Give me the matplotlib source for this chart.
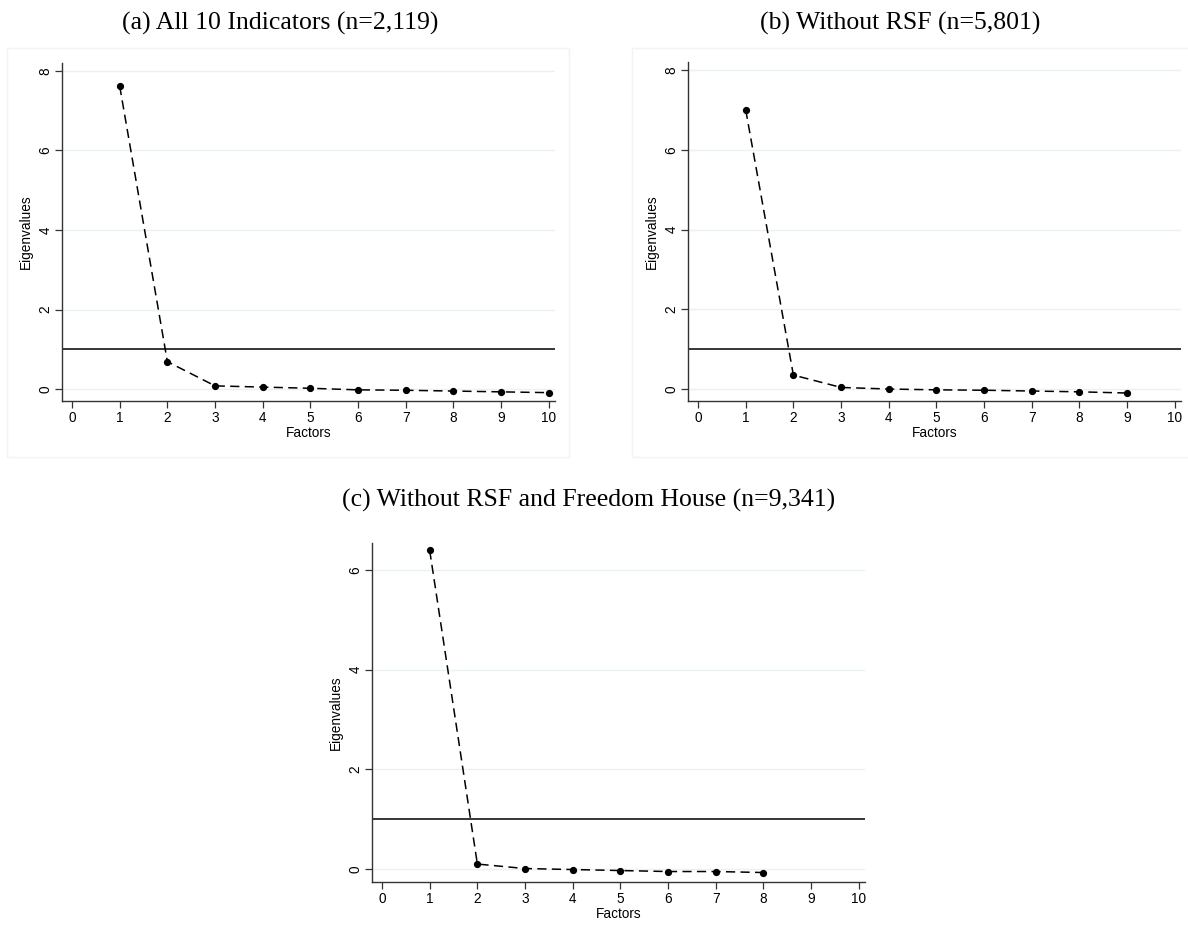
import matplotlib
matplotlib.use("Agg")
import matplotlib.pyplot as plt
from matplotlib.patches import Rectangle

# Data
eig_a = [7.62, 0.69, 0.08, 0.05, 0.02, -0.02, -0.03, -0.05, -0.07, -0.09]
eig_b = [7.00, 0.35, 0.04, 0.00, -0.02, -0.03, -0.05, -0.07, -0.10]
eig_c = [6.39, 0.10, 0.01, -0.01, -0.03, -0.05, -0.05, -0.07]
titles = ["(a) All 10 Indicators (n=2,119)",
          "(b) Without RSF (n=5,801)",
          "(c) Without RSF and Freedom House (n=9,341)"]
xticks = list(range(0, 11))

W, H = 1188, 932
fig = plt.figure(figsize=(W / 100, H / 100), dpi=100)

def ax_at(l, r, t, b):
    return fig.add_axes([l / W, 1 - b / H, (r - l) / W, (b - t) / H])

sans = ["Liberation Sans", "DejaVu Sans"]
serif = ["Liberation Serif", "DejaVu Serif"]

def draw(ax, vals, yticks, ylim):
    xs = list(range(1, len(vals) + 1))
    for yt in yticks:
        ax.axhline(yt, color="#eaf2f3", lw=1.0, zorder=0)
    ax.axhline(1, color="black", lw=1.1, zorder=1)
    ax.plot(xs, vals, ls=(0, (6, 3.5)), color="black", lw=1.1,
            marker="o", ms=4.2, zorder=3)
    ax.set_xlim(-0.21, 10.13)
    ax.set_ylim(*ylim)
    ax.set_xticks(xticks)
    ax.set_yticks(yticks)
    for s in ["top", "right"]:
        ax.spines[s].set_visible(False)
    for s in ["left", "bottom"]:
        ax.spines[s].set_color("#333333")
        ax.spines[s].set_linewidth(1.0)
    ax.tick_params(axis="both", direction="out", length=5, width=0.9,
                   color="#333333", labelsize=9.8, pad=2)
    for lab in ax.get_xticklabels():
        lab.set_family(sans)
    for lab in ax.get_yticklabels():
        lab.set_family(sans)
        lab.set_rotation(90)
        lab.set_va("center")
    ax.set_xlabel("Factors", family=sans, fontsize=9.8, labelpad=1)
    ax.set_ylabel("Eigenvalues", family=sans, fontsize=9.8, labelpad=4)
    ax.set_facecolor("white")

# panel frames
for (l, t, r, b) in [(7, 48, 569, 457), (632, 48, 1200, 457)]:
    fig.patches.append(Rectangle((l / W, 1 - b / H), (r - l) / W, (b - t) / H,
                                 transform=fig.transFigure, fill=False,
                                 edgecolor="#f3f3f3", lw=1.0))

ax1 = ax_at(62, 555, 63, 401)
draw(ax1, eig_a, [0, 2, 4, 6, 8], (-0.3, 8.2))
ax2 = ax_at(688, 1181, 62, 401)
draw(ax2, eig_b, [0, 2, 4, 6, 8], (-0.3, 8.2))
ax3 = ax_at(372, 865, 543, 882)
draw(ax3, eig_c, [0, 2, 4, 6], (-0.26, 6.54))

fig.text(280 / W, 1 - 23 / H, titles[0], family=serif, fontsize=18.5,
         ha="center", va="center")
fig.text(900 / W, 1 - 23 / H, titles[1], family=serif, fontsize=18.5,
         ha="center", va="center")
fig.text(589 / W, 1 - 500 / H, titles[2], family=serif, fontsize=18.5,
         ha="center", va="center")

fig.savefig("out.png", dpi=100, facecolor="white")
